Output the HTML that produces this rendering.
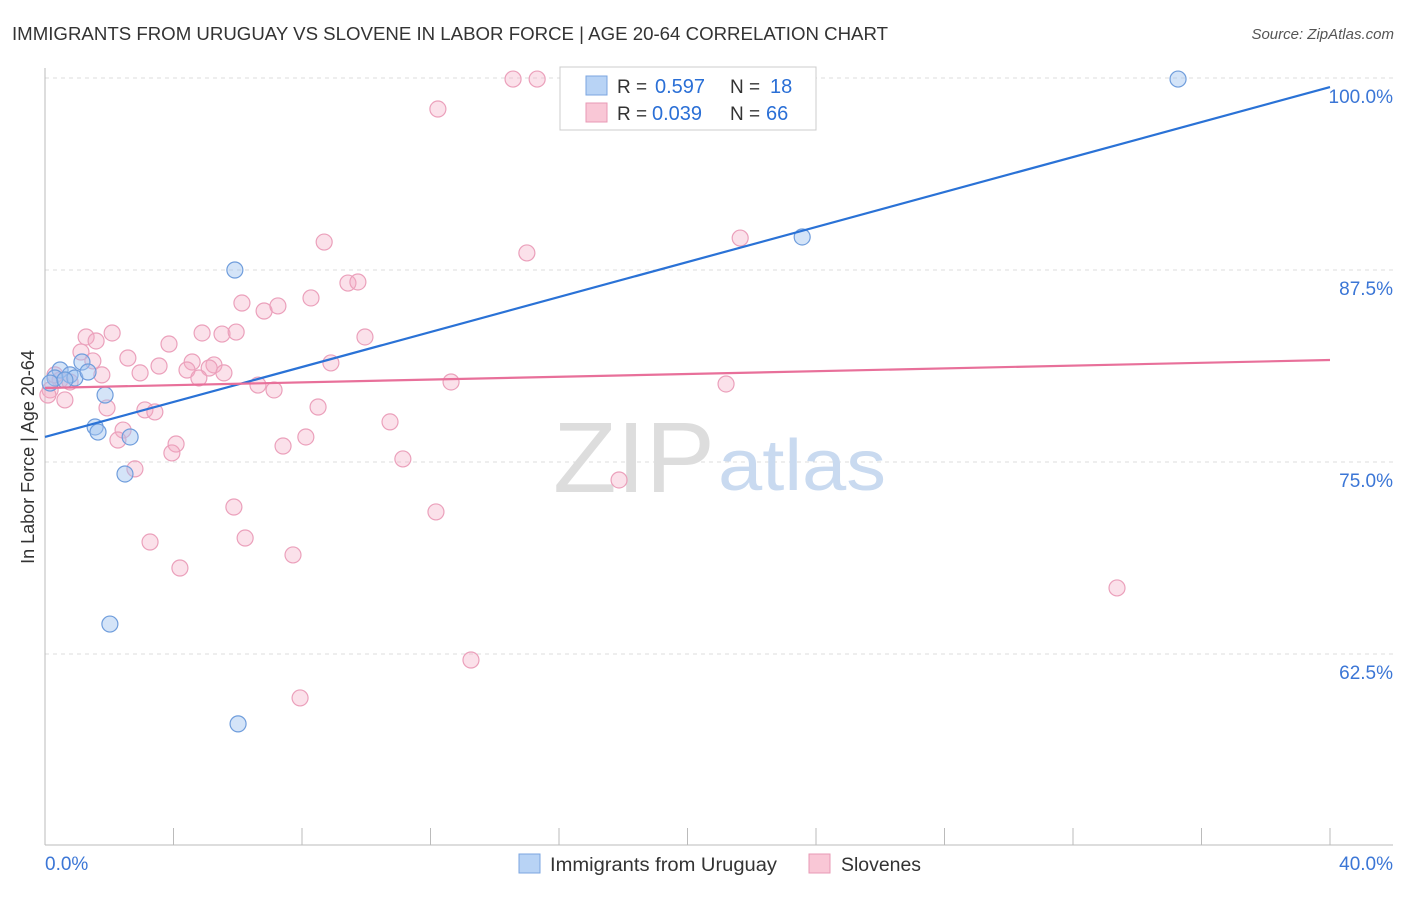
<!DOCTYPE html>
<html><head><meta charset="utf-8"><style>
body{margin:0;background:#fff;font-family:"Liberation Sans",sans-serif;}
svg text{font-family:"Liberation Sans",sans-serif;}
</style></head><body>
<svg id="chart" width="1406" height="892">
<text x="12" y="40" font-size="18" fill="#333" textLength="876" lengthAdjust="spacingAndGlyphs">IMMIGRANTS FROM URUGUAY VS SLOVENE IN LABOR FORCE | AGE 20-64 CORRELATION CHART</text>
<text x="1394" y="39" font-size="15" fill="#555" font-style="italic" text-anchor="end">Source: ZipAtlas.com</text>
<g id="grid"></g>
<text x="553" y="492" font-size="100" fill="#ddd" font-family="Liberation Serif" textLength="162" lengthAdjust="spacingAndGlyphs">ZIP</text>
<text x="718" y="490" font-size="72" fill="#c9daf0" textLength="168" lengthAdjust="spacingAndGlyphs">atlas</text>
<text transform="translate(34,457) rotate(-90)" font-size="18" fill="#333" text-anchor="middle">In Labor Force | Age 20-64</text>
<g id="marks"></g>
<g>
<rect x="560" y="67" width="256" height="63" fill="#fff" stroke="#ccc"/>
<rect x="586" y="76" width="21" height="19" fill="#b8d3f5" stroke="#7ba6e0"/>
<text x="617" y="93" font-size="19" fill="#333">R = </text>
<text x="655" y="93" font-size="20" fill="#2a6fd6">0.597</text>
<text x="730" y="93" font-size="19" fill="#333">N = </text>
<text x="770" y="93" font-size="20" fill="#2a6fd6">18</text>
<rect x="586" y="103" width="21" height="19" fill="#f9c7d6" stroke="#e89ab5"/>
<text x="617" y="120" font-size="19" fill="#333">R = </text>
<text x="652" y="120" font-size="20" fill="#2a6fd6">0.039</text>
<text x="730" y="120" font-size="19" fill="#333">N = </text>
<text x="766" y="120" font-size="20" fill="#2a6fd6">66</text>
</g>
<g>
<rect x="519" y="854" width="21" height="19" fill="#b8d3f5" stroke="#7ba6e0"/>
<text x="550" y="871" font-size="19" fill="#333" textLength="227" lengthAdjust="spacingAndGlyphs">Immigrants from Uruguay</text>
<rect x="809" y="854" width="21" height="19" fill="#f9c7d6" stroke="#e89ab5"/>
<text x="841" y="871" font-size="19" fill="#333" textLength="80" lengthAdjust="spacingAndGlyphs">Slovenes</text>
</g>
</svg>
<script>
const yTicks=[100,87.5,75,62.5];
const yTickLabels=["100.0%","87.5%","75.0%","62.5%"];
const xTickLabels=["0.0%","40.0%"];
const blueX=[0.47,0.31,0.78,0.93,1.15,1.34,1.56,1.65,1.87,2.65,2.49,2.02,5.91,6.01,23.57,35.27,0.16,0.62];
const blueY=[80.99,80.47,80.67,80.47,81.51,80.86,77.28,76.95,79.36,76.63,74.22,64.45,87.5,57.95,89.65,99.93,80.14,80.34];
const pinkX=[14.57,15.32,12.23,8.69,21.64,15.0,9.43,9.74,6.13,6.82,7.25,8.28,1.28,2.09,1.59,4.89,5.51,5.95,9.96,3.86,1.12,1.49,2.58,3.55,4.58,5.26,4.42,5.11,5.57,4.79,1.77,2.96,8.9,12.64,21.2,6.63,7.13,0.47,0.16,0.62,1.93,3.11,3.42,8.5,10.74,2.43,2.27,4.08,3.95,8.12,7.41,11.14,2.8,17.87,5.88,12.17,6.23,3.27,7.72,4.2,33.37,13.26,7.94,0.09,0.31,0.78];
const pinkY=[99.93,99.93,97.98,89.32,89.58,88.61,86.65,86.72,85.35,84.83,85.16,85.68,83.14,83.4,82.88,83.4,83.33,83.46,83.14,82.68,82.16,81.58,81.77,81.25,81.51,81.32,80.99,81.12,80.8,80.47,80.67,80.8,81.45,80.21,80.08,80.01,79.69,80.34,79.69,79.04,78.52,78.39,78.26,78.58,77.61,77.08,76.43,76.17,75.59,76.63,76.04,75.2,74.55,73.83,72.07,71.75,70.05,69.79,68.95,68.1,66.8,62.11,59.64,79.36,80.67,80.21];
const blueTrend=[76.63,99.41];
const pinkTrend=[79.82,81.64];
const NS="http://www.w3.org/2000/svg";
const X=v=>45+v/40*1285;
const Y=v=>78+(100-v)/12.5*192;
function mk(tag,attrs,parent){const e=document.createElementNS(NS,tag);for(const k in attrs)e.setAttribute(k,attrs[k]);parent.appendChild(e);return e;}
const grid=document.getElementById('grid');
yTicks.forEach((t,i)=>{
 const l=mk('line',{x1:45,x2:1393,y1:Y(t),y2:Y(t),stroke:'#ddd','stroke-dasharray':'4,4'},grid);
 
 
 const tx=mk('text',{x:1393,y:Y(t)+25,'font-size':19,fill:'#3b76d6','text-anchor':'end'},grid);
 tx.textContent=yTickLabels[i];
 
 
});
const ax=mk('line',{x1:45,x2:1393,y1:845,y2:845,stroke:'#bbb'},grid);


const ay=mk('line',{x1:45,x2:45,y1:68,y2:845,stroke:'#bbb'},grid);


for(let i=1;i<=10;i++){
 const t=mk('line',{x1:X(i*4),x2:X(i*4),y1:828,y2:845,stroke:'#bbb'},grid);
 
 
}
[[0,'start',45],[40,'end',1393]].forEach((d,i)=>{
 const tx=mk('text',{x:d[2],y:870,'font-size':19,fill:'#3b76d6','text-anchor':d[1]},grid);
 tx.textContent=xTickLabels[i];
 
 
});
const marks=document.getElementById('marks');
pinkX.forEach((x,i)=>{
 const c=mk('circle',{cx:X(x),cy:Y(pinkY[i]),r:8,fill:'rgba(244,170,196,0.35)',stroke:'#eba0bb','stroke-width':1.2},marks);
 
 
});
blueX.forEach((x,i)=>{
 const c=mk('circle',{cx:X(x),cy:Y(blueY[i]),r:8,fill:'rgba(160,196,240,0.45)',stroke:'#6f9ddc','stroke-width':1.2},marks);
 
 
});
const bl=mk('line',{x1:X(0),x2:X(40),y1:Y(blueTrend[0]),y2:Y(blueTrend[1]),stroke:'#2a72d6','stroke-width':2.2},marks);


const pl=mk('line',{x1:X(0),x2:X(40),y1:Y(pinkTrend[0]),y2:Y(pinkTrend[1]),stroke:'#e8709a','stroke-width':2.2},marks);


</script>
</body></html>
